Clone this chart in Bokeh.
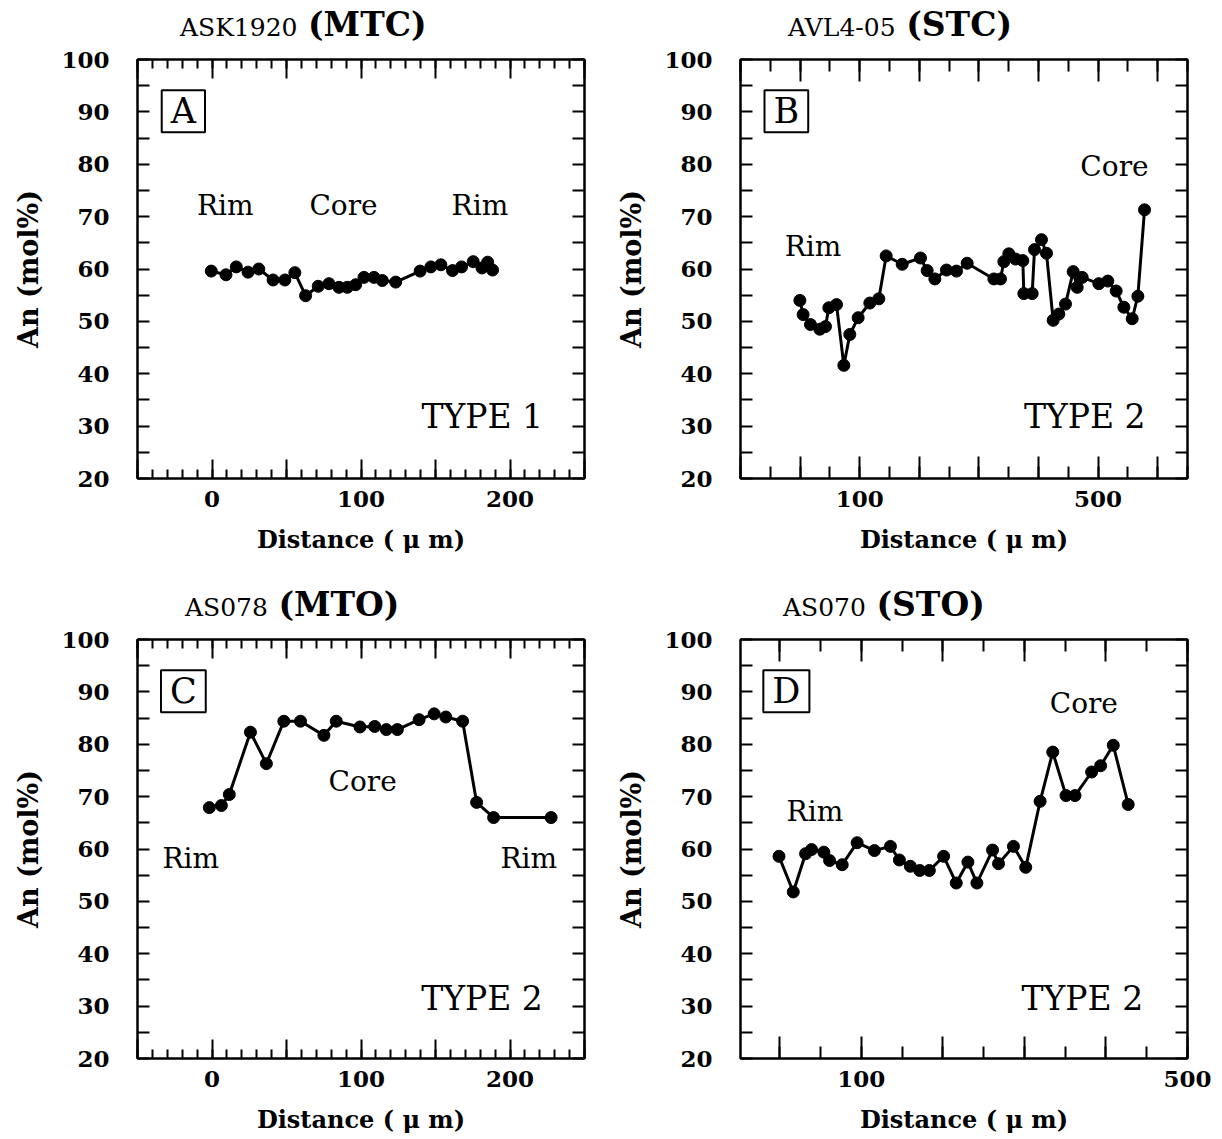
from bokeh.plotting import figure
from bokeh.models import Range1d, FixedTicker, LinearAxis, Label, Div
from bokeh.layouts import column, row
from bokeh.embed import file_html
from bokeh.resources import INLINE

# ---------------- data ----------------
# Panel A  ASK1920 (MTC)
a_dist = [-0.5, 9.4, 16.3, 24.2, 31.4, 41.0, 48.9, 55.6, 62.8, 71.3, 78.5, 85.2, 90.8,
          96.4, 102.0, 108.7, 114.3, 123.3, 139.7, 146.9, 153.6, 161.4, 167.5, 175.3,
          181.2, 185.0, 188.3]
a_an = [59.6, 58.9, 60.4, 59.4, 60.0, 57.9, 57.9, 59.3, 54.9, 56.7, 57.2, 56.5, 56.5,
        57.0, 58.4, 58.4, 57.8, 57.5, 59.6, 60.4, 60.8, 59.7, 60.4, 61.4,
        60.2, 61.3, 59.8]

# Panel B  AVL4-05 (STC)
b_dist = [-0.4, 5.1, 17.4, 33.1, 42.6, 48.2, 61.1, 73.4, 83.4, 97.4, 117.0, 132.1,
          144.4, 171.3, 202.0, 213.2, 226.1, 245.6, 262.4, 280.3, 325.1, 336.2, 341.8,
          350.2, 361.4, 373.7, 375.4, 389.4, 393.3, 405.0, 413.4, 424.6, 434.1, 445.3,
          458.2, 464.9, 473.3, 501.2, 516.3, 530.3, 543.2, 557.2, 566.7, 577.9]
b_an = [54.0, 51.3, 49.4, 48.5, 49.0, 52.6, 53.2, 41.6, 47.5, 50.7, 53.5, 54.3,
        62.5, 60.9, 62.1, 59.7, 58.1, 59.8, 59.6, 61.1, 58.1, 58.1, 61.4,
        62.9, 61.9, 61.6, 55.3, 55.3, 63.7, 65.6, 63.0, 50.2, 51.4, 53.3,
        59.5, 56.5, 58.4, 57.2, 57.7, 55.8, 52.7, 50.5, 54.8, 71.3]

# Panel C  AS078 (MTO)
c_dist = [-1.8, 6.3, 11.6, 25.8, 36.5, 48.2, 59.4, 75.1, 83.4, 99.3, 109.2, 117.0,
          124.4, 139.0, 149.1, 156.9, 168.2, 177.6, 189.0, 227.6]
c_an = [67.9, 68.3, 70.4, 82.3, 76.3, 84.4, 84.4, 81.7, 84.4, 83.3, 83.4, 82.8,
        82.8, 84.7, 85.8, 85.2, 84.4, 68.9, 66.0, 66.0]

# Panel D  AS070 (STO)
d_dist = [-0.8, 16.7, 31.8, 39.1, 54.2, 61.2, 76.7, 95.0, 116.2, 135.8, 146.8, 160.2,
          171.7, 183.5, 201.0, 216.5, 230.8, 241.8, 261.0, 268.3, 286.6, 301.7, 319.3,
          334.8, 351.1, 362.1, 382.5, 393.5, 409.0, 427.3]
d_an = [58.6, 51.8, 59.1, 59.9, 59.4, 57.8, 57.0, 61.2, 59.7, 60.5, 57.9, 56.7,
        55.9, 55.9, 58.6, 53.5, 57.5, 53.5, 59.8, 57.2, 60.5, 56.5, 69.1,
        78.5, 70.2, 70.2, 74.7, 75.9, 79.8, 68.5]

sample_ids = ["ASK1920", "AVL4-05", "AS078", "AS070"]
sample_types = ["(MTC)", "(STC)", "(MTO)", "(STO)"]
panel_letters = ["A", "B", "C", "D"]
type_labels = ["TYPE 1", "TYPE 2", "TYPE 2", "TYPE 2"]

y_ticks = list(range(20, 101, 5))
y_labeled = list(range(20, 101, 10))

FONT = "DejaVu Serif"


def make_title(idx, width, left_pad):
    html = ('<div style="padding-left:%dpx;padding-top:8px;white-space:nowrap;'
            'font-family:\'DejaVu Serif\';font-size:33px;line-height:33px;color:black;">'
            '<span style="font-size:25px;">%s</span> '
            '<span style="font-size:33px;font-weight:bold;">%s</span></div>'
            % (left_pad, sample_ids[idx], sample_types[idx]))
    return Div(text=html, width=width, height=40, margin=0)


def make_panel(xs, ys, xr, x_major, x_minor, x_labeled, maj_len, min_len,
               width, height, mb, idx, notes, type_x, type_y):
    p = figure(width=width, height=height, output_backend="svg",
               toolbar_location=None,
               x_range=Range1d(*xr), y_range=Range1d(20, 100),
               min_border_left=mb[0], min_border_right=mb[1],
               min_border_top=mb[2], min_border_bottom=mb[3],
               background_fill_color="white", border_fill_color="white")
    p.xgrid.visible = False
    p.ygrid.visible = False
    p.outline_line_color = "black"
    p.outline_line_width = 2
    p.outline_line_alpha = 1

    xt = FixedTicker(ticks=x_major, minor_ticks=x_minor)
    yt = FixedTicker(ticks=y_ticks, minor_ticks=[])
    x_over = {t: "" for t in x_major if t not in x_labeled}
    y_over = {t: "" for t in y_ticks if t not in y_labeled}

    def hide_labels(ax):
        ax.major_label_text_font_size = "1px"
        ax.major_label_text_alpha = 0
        ax.major_label_text_color = None
        ax.major_label_standoff = 0

    def style_x(ax, labels=True):
        ax.ticker = xt
        ax.axis_line_width = 2
        ax.major_tick_line_width = 2
        ax.minor_tick_line_width = 2
        ax.major_tick_in = maj_len
        ax.major_tick_out = 0
        ax.minor_tick_in = min_len
        ax.minor_tick_out = 0
        if labels:
            ax.major_label_overrides = x_over
            ax.major_label_text_font = FONT
            ax.major_label_text_font_style = "bold"
            ax.major_label_text_font_size = "23px"
            ax.major_label_text_color = "black"
            ax.major_label_standoff = 12
            ax.axis_label = "Distance ( \u03bc m)"
            ax.axis_label_text_font = FONT
            ax.axis_label_text_font_style = "bold"
            ax.axis_label_text_font_size = "24px"
            ax.axis_label_text_color = "black"
            ax.axis_label_standoff = 15
        else:
            hide_labels(ax)

    def style_y(ax, labels=True):
        ax.ticker = yt
        ax.axis_line_width = 2
        ax.major_tick_line_width = 2
        ax.major_tick_in = 12
        ax.major_tick_out = 0
        ax.minor_tick_in = 0
        ax.minor_tick_out = 0
        if labels:
            ax.major_label_overrides = y_over
            ax.major_label_text_font = FONT
            ax.major_label_text_font_style = "bold"
            ax.major_label_text_font_size = "23px"
            ax.major_label_text_color = "black"
            ax.major_label_standoff = 28
            ax.axis_label = "An (mol%)"
            ax.axis_label_text_font = FONT
            ax.axis_label_text_font_style = "bold"
            ax.axis_label_text_font_size = "27px"
            ax.axis_label_text_color = "black"
            ax.axis_label_standoff = 14
        else:
            hide_labels(ax)

    style_x(p.xaxis[0])
    style_y(p.yaxis[0])
    top = LinearAxis()
    style_x(top, labels=False)
    p.add_layout(top, "above")
    right = LinearAxis()
    style_y(right, labels=False)
    p.add_layout(right, "right")

    p.line(xs, ys, line_width=3, line_color="black", line_join="round")
    p.scatter(xs, ys, size=12, fill_color="black", line_color="black")

    # boxed panel letter
    p.add_layout(Label(x=xr[0] + (xr[1] - xr[0]) * 0.1026, y=90.1, text=panel_letters[idx],
                       text_font=FONT, text_font_size="35px", text_color="black",
                       text_baseline="middle", text_align="center",
                       border_line_color="black", border_line_width=2,
                       background_fill_color="white", padding=(9, 1)))
    for t, nx, ny in notes:
        p.add_layout(Label(x=nx, y=ny, text=t, text_font=FONT, text_font_size="28px",
                           text_color="black", text_baseline="alphabetic",
                           text_align="center"))
    p.add_layout(Label(x=type_x, y=type_y, text=type_labels[idx], text_font=FONT,
                       text_font_size="33px", text_color="black",
                       text_baseline="alphabetic", text_align="right"))
    return p


ac_major = list(range(-50, 251, 50))
ac_minor = list(range(-50, 251, 10))
b_major = list(range(-100, 651, 100))
b_minor = list(range(-50, 651, 100))
d_major = list(range(0, 501, 100))
d_minor = list(range(50, 501, 100))

pa = make_panel(a_dist, a_an, (-50, 250), ac_major, ac_minor, [0, 100, 200], 19, 9,
                603, 540, (137, 19, 19, 102), 0,
                [("Rim", 8.9, 72.2), ("Core", 88.3, 72.2), ("Rim", 179.8, 72.2)],
                222.2, 31.8)
pb = make_panel(b_dist, b_an, (-100, 650), b_major, b_minor + b_major, [100, 500], 22, 12,
                619, 540, (137, 35, 19, 102), 1,
                [("Rim", 21.6, 64.25), ("Core", 527.5, 79.5)],
                579.5, 31.8)
pc = make_panel(c_dist, c_an, (-50, 250), ac_major, ac_minor, [0, 100, 200], 19, 9,
                603, 519, (137, 19, 19, 81), 2,
                [("Rim", -14.3, 58.2), ("Core", 101.1, 72.95), ("Rim", 212.6, 58.2)],
                222.0, 31.5)
pd_ = make_panel(d_dist, d_an, (-48, 500), d_major, d_minor + d_major, [100, 500], 22, 12,
                 619, 519, (137, 35, 19, 81), 3,
                 [("Rim", 43.2, 67.1), ("Core", 372.9, 87.8)],
                 445.6, 31.5)

layout = column(
    row(make_title(0, 603, 180), make_title(1, 619, 185)),
    row(pa, pb),
    row(make_title(2, 603, 185), make_title(3, 619, 180)),
    row(pc, pd_),
)

open("out.html", "w").write(file_html(layout, INLINE))
